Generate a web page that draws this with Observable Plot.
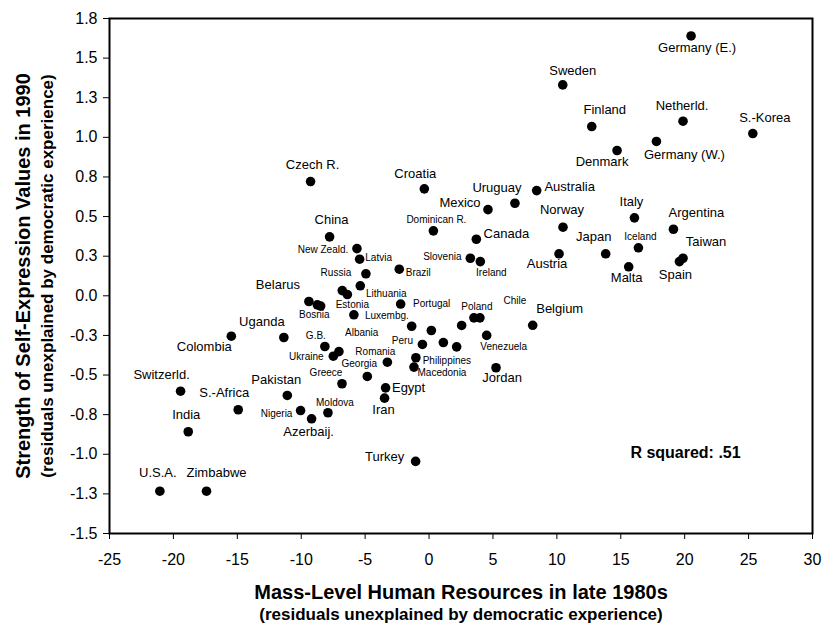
<!DOCTYPE html>
<html>
<head>
<meta charset="utf-8">
<script src="https://cdn.jsdelivr.net/npm/d3@7"></script>
<script src="https://cdn.jsdelivr.net/npm/@observablehq/plot@0.6"></script>
<style>
  html, body { margin: 0; padding: 0; background: #fff; }
  #chart { width: 822px; height: 625px; }
</style>
</head>
<body>
<div id="chart"></div>
<script>
// Countries (empty name = unlabelled point)
const countries = [
  "Germany (E.)", "Sweden", "Finland", "Netherld.", "S.-Korea", "Germany (W.)", "Denmark",
  "Czech R.", "Croatia", "Australia", "Uruguay", "Mexico", "Norway", "Italy", "Argentina",
  "Dominican R.", "Canada", "China", "Japan", "Iceland", "Taiwan", "Spain", "Austria", "Malta",
  "New Zeald.", "Latvia", "Slovenia", "Ireland", "Brazil", "Russia", "Lithuania", "", "Estonia",
  "Belarus", "Bosnia", "", "Portugal", "Luxembg.", "Poland", "Chile", "Belgium", "Albania",
  "", "", "Peru", "", "", "Venezuela", "Philippines", "Macedonia", "Jordan", "Romania",
  "Georgia", "Greece", "G.B.", "Ukraine", "", "Uganda", "Colombia", "Switzerld.", "S.-Africa",
  "Pakistan", "India", "Nigeria", "Azerbaij.", "Moldova", "Egypt", "Iran", "Turkey",
  "U.S.A.", "Zimbabwe"
];

// Mass-level human resources, late 1980s (residuals)
const humanResources = [
  20.50, 10.46, 12.73, 19.87, 25.33, 17.79, 14.71,
  -9.27, -0.37, 8.42, 6.72, 4.61, 10.48, 16.07, 19.12,
  0.34, 3.70, -7.78, 13.82, 16.38, 19.87, 19.59, 10.17, 15.62,
  -5.64, -5.43, 3.23, 4.01, -2.33, -4.94, -5.38, -6.79, -6.39,
  -9.40, -8.74, -8.48, -2.22, -5.88, 3.51, 3.98, 8.11, -1.36,
  0.18, 2.55, -0.52, 1.12, 2.16, 4.51, -1.03, -1.18, 5.24, -3.26,
  -4.83, -6.81, -8.15, -7.49, -7.05, -11.36, -15.47, -19.44, -14.93,
  -11.09, -18.84, -10.05, -9.19, -7.91, -3.40, -3.48, -1.05,
  -21.06, -17.41
];

// Strength of self-expression values, 1990 (residuals)
const selfExpression = [
  1.640, 1.331, 1.068, 1.102, 1.024, 0.974, 0.917,
  0.721, 0.675, 0.664, 0.584, 0.544, 0.433, 0.492, 0.420,
  0.410, 0.357, 0.372, 0.265, 0.303, 0.237, 0.216, 0.265, 0.183,
  0.298, 0.231, 0.237, 0.216, 0.168, 0.139, 0.063, 0.033, 0.008,
  -0.036, -0.057, -0.065, -0.052, -0.120, -0.139, -0.139, -0.186, -0.192,
  -0.219, -0.187, -0.307, -0.295, -0.322, -0.250, -0.391, -0.450, -0.454, -0.419,
  -0.509, -0.555, -0.320, -0.381, -0.352, -0.263, -0.255, -0.602, -0.719,
  -0.629, -0.858, -0.724, -0.776, -0.738, -0.581, -0.646, -1.045,
  -1.233, -1.233
];

// Axis ticks
const xTicks = [-25, -20, -15, -10, -5, 0, 5, 10, 15, 20, 25, 30];
const yTicks = [-1.5, -1.25, -1.0, -0.75, -0.5, -0.25, 0, 0.25, 0.5, 0.75, 1.0, 1.25, 1.5, 1.75];
const yTickLabels = ["-1.5", "-1.3", "-1.0", "-0.8", "-0.5", "-0.3", "0.0", "0.3", "0.5", "0.8", "1.0", "1.3", "1.5", "1.8"];

const xTitle = "Mass-Level Human Resources in late 1980s";
const xSubtitle = "(residuals unexplained by democratic experience)";
const yTitle = "Strength of Self-Expression Values in 1990";
const ySubtitle = "(residuals unexplained by democratic experience)";
const rSquared = "R squared: .51";

// Label placement: [dx, dy] in pixels from the point, label centred there
const labelPlacement = {
  "Germany (E.)": [6, 12], "Sweden": [10, -14], "Finland": [13, -17], "Netherld.": [-1, -15],
  "S.-Korea": [12, -16], "Germany (W.)": [28, 13], "Denmark": [-15, 11], "Czech R.": [2, -17],
  "Croatia": [-9, -15], "Australia": [33, -4], "Uruguay": [-18, -15], "Mexico": [-28, -7],
  "Norway": [-1, -17], "Italy": [-3, -16], "Argentina": [23, -16], "Dominican R.": [3, -11],
  "Canada": [30, -5], "China": [2, -17], "Japan": [-12, -17], "Iceland": [2, -11],
  "Taiwan": [23, -16], "Spain": [-4, 13], "Austria": [-12, 10], "Malta": [-2, 11],
  "New Zeald.": [-34, 1], "Latvia": [19, -1], "Slovenia": [-28, -1], "Ireland": [11, 11],
  "Brazil": [19, 4], "Russia": [-30, -1], "Lithuania": [26, 8], "Estonia": [5, 10],
  "Belarus": [-31, -17], "Bosnia": [-3, 10], "Portugal": [31, 0], "Luxembg.": [33, 1],
  "Poland": [3, -11], "Chile": [35, -17], "Belgium": [27, -16], "Albania": [-50, 7],
  "Peru": [-20, -4], "Venezuela": [17, 11], "Philippines": [31, 3], "Macedonia": [28, 6],
  "Jordan": [6, 10], "Romania": [-12, -10], "Georgia": [-8, -13], "Greece": [-16, -11],
  "G.B.": [-9, -11], "Ukraine": [-27, 1], "Uganda": [-22, -16], "Colombia": [-27, 11],
  "Switzerld.": [-19, -16], "S.-Africa": [-14, -17], "Pakistan": [-11, -16], "India": [-2, -17],
  "Nigeria": [-24, 3], "Azerbaij.": [-3, 13], "Moldova": [7, -10], "Egypt": [23, 0],
  "Iran": [-1, 12], "Turkey": [-31, -5], "U.S.A.": [-2, -18], "Zimbabwe": [10, -18]
};

// Countries printed in the smaller label size
const smallLabels = new Set([
  "Dominican R.", "Iceland", "New Zeald.", "Latvia", "Slovenia", "Ireland", "Brazil", "Russia",
  "Lithuania", "Estonia", "Bosnia", "Portugal", "Luxembg.", "Poland", "Chile", "Albania", "Peru",
  "Venezuela", "Philippines", "Macedonia", "Romania", "Georgia", "Greece", "G.B.", "Ukraine",
  "Nigeria", "Moldova"
]);

const points = countries.map((name, i) => ({name, x: humanResources[i], y: selfExpression[i]}));

const labelMarks = points
  .filter(d => d.name !== "")
  .map(d => {
    const [dx, dy] = labelPlacement[d.name] || [0, -15];
    return Plot.text([d], {
      x: "x", y: "y", text: "name",
      dx, dy,
      textAnchor: "middle", lineAnchor: "middle",
      fontSize: smallLabels.has(d.name) ? 10 : 13,
      fill: "#000"
    });
  });

const chart = Plot.plot({
  width: 822,
  height: 625,
  marginLeft: 109,
  marginRight: 10,
  marginTop: 18,
  marginBottom: 92,
  style: {fontFamily: "'Liberation Sans', Arial, sans-serif", background: "#fff", color: "#000", overflow: "visible"},
  x: {domain: [xTicks[0], xTicks[xTicks.length - 1]]},
  y: {domain: [yTicks[0], yTicks[yTicks.length - 1]]},
  marks: [
    Plot.axisX({ticks: xTicks, tickSize: 6, tickPadding: 14, fontSize: 16, label: null, tickFormat: d => String(d)}),
    Plot.axisY({ticks: yTicks, tickSize: 6, tickPadding: 6, fontSize: 16, label: null,
      tickFormat: d => yTickLabels[yTicks.indexOf(d)]}),
    Plot.frame({stroke: "#000", strokeWidth: 2}),
    Plot.dot(points, {x: "x", y: "y", r: 4.8, fill: "#000", stroke: "none"}),
    ...labelMarks,
    Plot.text([rSquared], {frameAnchor: "bottom-right", dx: -127, dy: -81, textAnchor: "middle",
      lineAnchor: "middle", fontSize: 16, fontWeight: "bold", fill: "#000"}),
    Plot.text([xTitle], {frameAnchor: "bottom", dy: 58.6, textAnchor: "middle", lineAnchor: "middle",
      fontSize: 20, fontWeight: "bold", fill: "#000"}),
    Plot.text([xSubtitle], {frameAnchor: "bottom", dy: 81, textAnchor: "middle", lineAnchor: "middle",
      fontSize: 17, fontWeight: "bold", fill: "#000"}),
    Plot.text([yTitle], {frameAnchor: "left", dx: -86, rotate: -90, textAnchor: "middle", lineAnchor: "middle",
      fontSize: 20, fontWeight: "bold", fill: "#000"}),
    Plot.text([ySubtitle], {frameAnchor: "left", dx: -62, rotate: -90, textAnchor: "middle", lineAnchor: "middle",
      fontSize: 17, fontWeight: "bold", fill: "#000"})
  ]
});

document.getElementById("chart").appendChild(chart);
</script>
</body>
</html>
